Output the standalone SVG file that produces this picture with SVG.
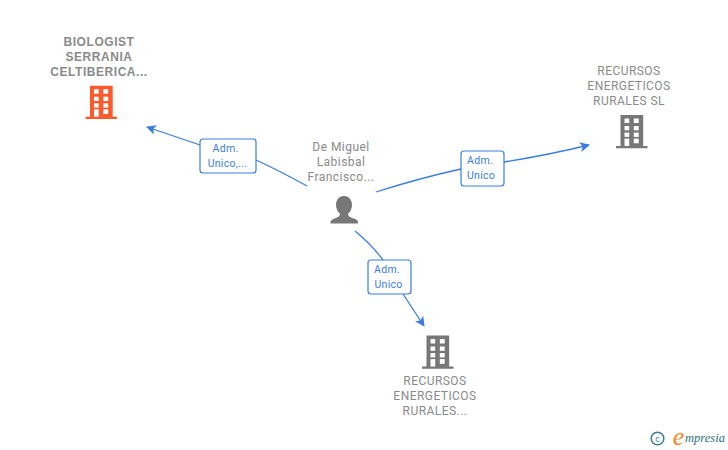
<svg xmlns="http://www.w3.org/2000/svg" width="728" height="450" viewBox="0 0 728 450">
<style>
.n{font-family:Roboto,"Liberation Sans",sans-serif;font-size:12px;fill:#8a8a8a;text-anchor:middle;letter-spacing:.45px}
.b{font-weight:bold;font-family:"Liberation Sans",Arial,sans-serif;font-size:12px;letter-spacing:.55px}
.l{font-family:Roboto,"Liberation Sans",sans-serif;font-size:10.500px;fill:#3a7de0;text-anchor:middle;letter-spacing:.3px}
.c{fill:none;stroke:#3a7de0;stroke-width:1.3}
.box{fill:#fff;stroke:#3a7de0;stroke-width:1.2}
.w{fill:#fff}
</style>
<defs>
<marker id="a" viewBox="0 0 10 10" refX="9" refY="5" markerWidth="10" markerHeight="10" markerUnits="userSpaceOnUse" orient="auto"><path d="M0 0L10 5L0 10L2.500 5Z" fill="#3a7de0"/></marker>
<g id="bld"><path d="M4.500 0H27.200V31H31.500V33.300H0V31H4.500Z"/><g class="w"><rect x="8.500" y="3.500" width="4.700" height="4.500"/><rect x="17.800" y="3.500" width="4.900" height="4.500"/><rect x="8.500" y="11" width="4.700" height="4.300"/><rect x="17.800" y="11" width="4.900" height="4.300"/><rect x="8.500" y="17.600" width="4.700" height="4.300"/><rect x="17.800" y="17.600" width="4.900" height="4.300"/><rect x="8.500" y="23.600" width="4.700" height="7.400"/><rect x="17.800" y="23.600" width="4.900" height="4.700"/></g></g>
</defs>
<g id="connectors">
<path class="c" d="M307 186Q280 171 256 160"/>
<path class="c" marker-end="url(#a)" d="M200 145L147 127"/>
<path class="c" d="M376 192Q420 178 461 169"/>
<path class="c" marker-end="url(#a)" d="M504 162Q548 155 589 145"/>
<path class="c" d="M355 231Q372 245 383 260"/>
<path class="c" marker-end="url(#a)" d="M403 294L424 326"/>
</g>
<g id="node-biologist">
<text class="n b"><tspan x="99" y="46">BIOLOGIST</tspan><tspan x="99" y="61">SERRANIA</tspan><tspan x="99" y="76">CELTIBERICA...</tspan></text>
<use href="#bld" x="85.500" y="85.700" fill="#ff5a2c"/>
</g>
<g id="node-person">
<text class="n"><tspan x="341" y="151">De Miguel</tspan><tspan x="341" y="166">Labisbal</tspan><tspan x="341" y="181">Francisco...</tspan></text>
<path fill="#777" d="M344 196C349 196 352 200 352 205C352 209 350 212 348 214C348 216 350 217 352 218C356 219 358 220 358 223L358 223.500H330.500V223C330.500 220 333 219 336 218C338 217 340 216 340 214C338 212 336 209 336 205C336 200 339 196 344 196Z"/>
</g>
<g id="node-recursos-sl">
<text class="n"><tspan x="629" y="75">RECURSOS</tspan><tspan x="629" y="90">ENERGETICOS</tspan><tspan x="629" y="105">RURALES SL</tspan></text>
<use href="#bld" x="616" y="115" fill="#777"/>
</g>
<g id="node-recursos">
<use href="#bld" x="422" y="335.500" fill="#777"/>
<text class="n"><tspan x="435" y="385">RECURSOS</tspan><tspan x="435" y="400">ENERGETICOS</tspan><tspan x="435" y="415">RURALES...</tspan></text>
</g>
<g id="label-1"><rect class="box" x="200" y="139" width="56" height="34" rx="3"/><text class="l"><tspan x="225.500" y="152">Adm.</tspan><tspan x="227.500" y="167">Unico,...</tspan></text></g>
<g id="label-2"><rect class="box" x="461" y="151" width="43" height="35" rx="3"/><text class="l"><tspan x="480" y="164">Adm.</tspan><tspan x="481" y="179">Unico</tspan></text></g>
<g id="label-3"><rect class="box" x="368" y="260" width="43" height="34" rx="3"/><text class="l"><tspan x="387" y="273">Adm.</tspan><tspan x="388.500" y="288">Unico</tspan></text></g>
<g id="logo">
<circle cx="657.500" cy="438.500" r="6.300" fill="none" stroke="#3f7f8f" stroke-width="1.600"/>
<text x="657.500" y="441.500" font-family="Liberation Sans,sans-serif" font-size="9" fill="#3f7f8f" text-anchor="middle">c</text>
<text x="678.500" y="445" font-family="Liberation Serif,serif" font-style="italic" font-size="26" fill="#f08a1d" text-anchor="middle">e</text>
<text x="685" y="442" font-family="Liberation Serif,serif" font-style="italic" font-size="12.500" fill="#1f6f80" textLength="40">mpresia</text>
</g>
</svg>
